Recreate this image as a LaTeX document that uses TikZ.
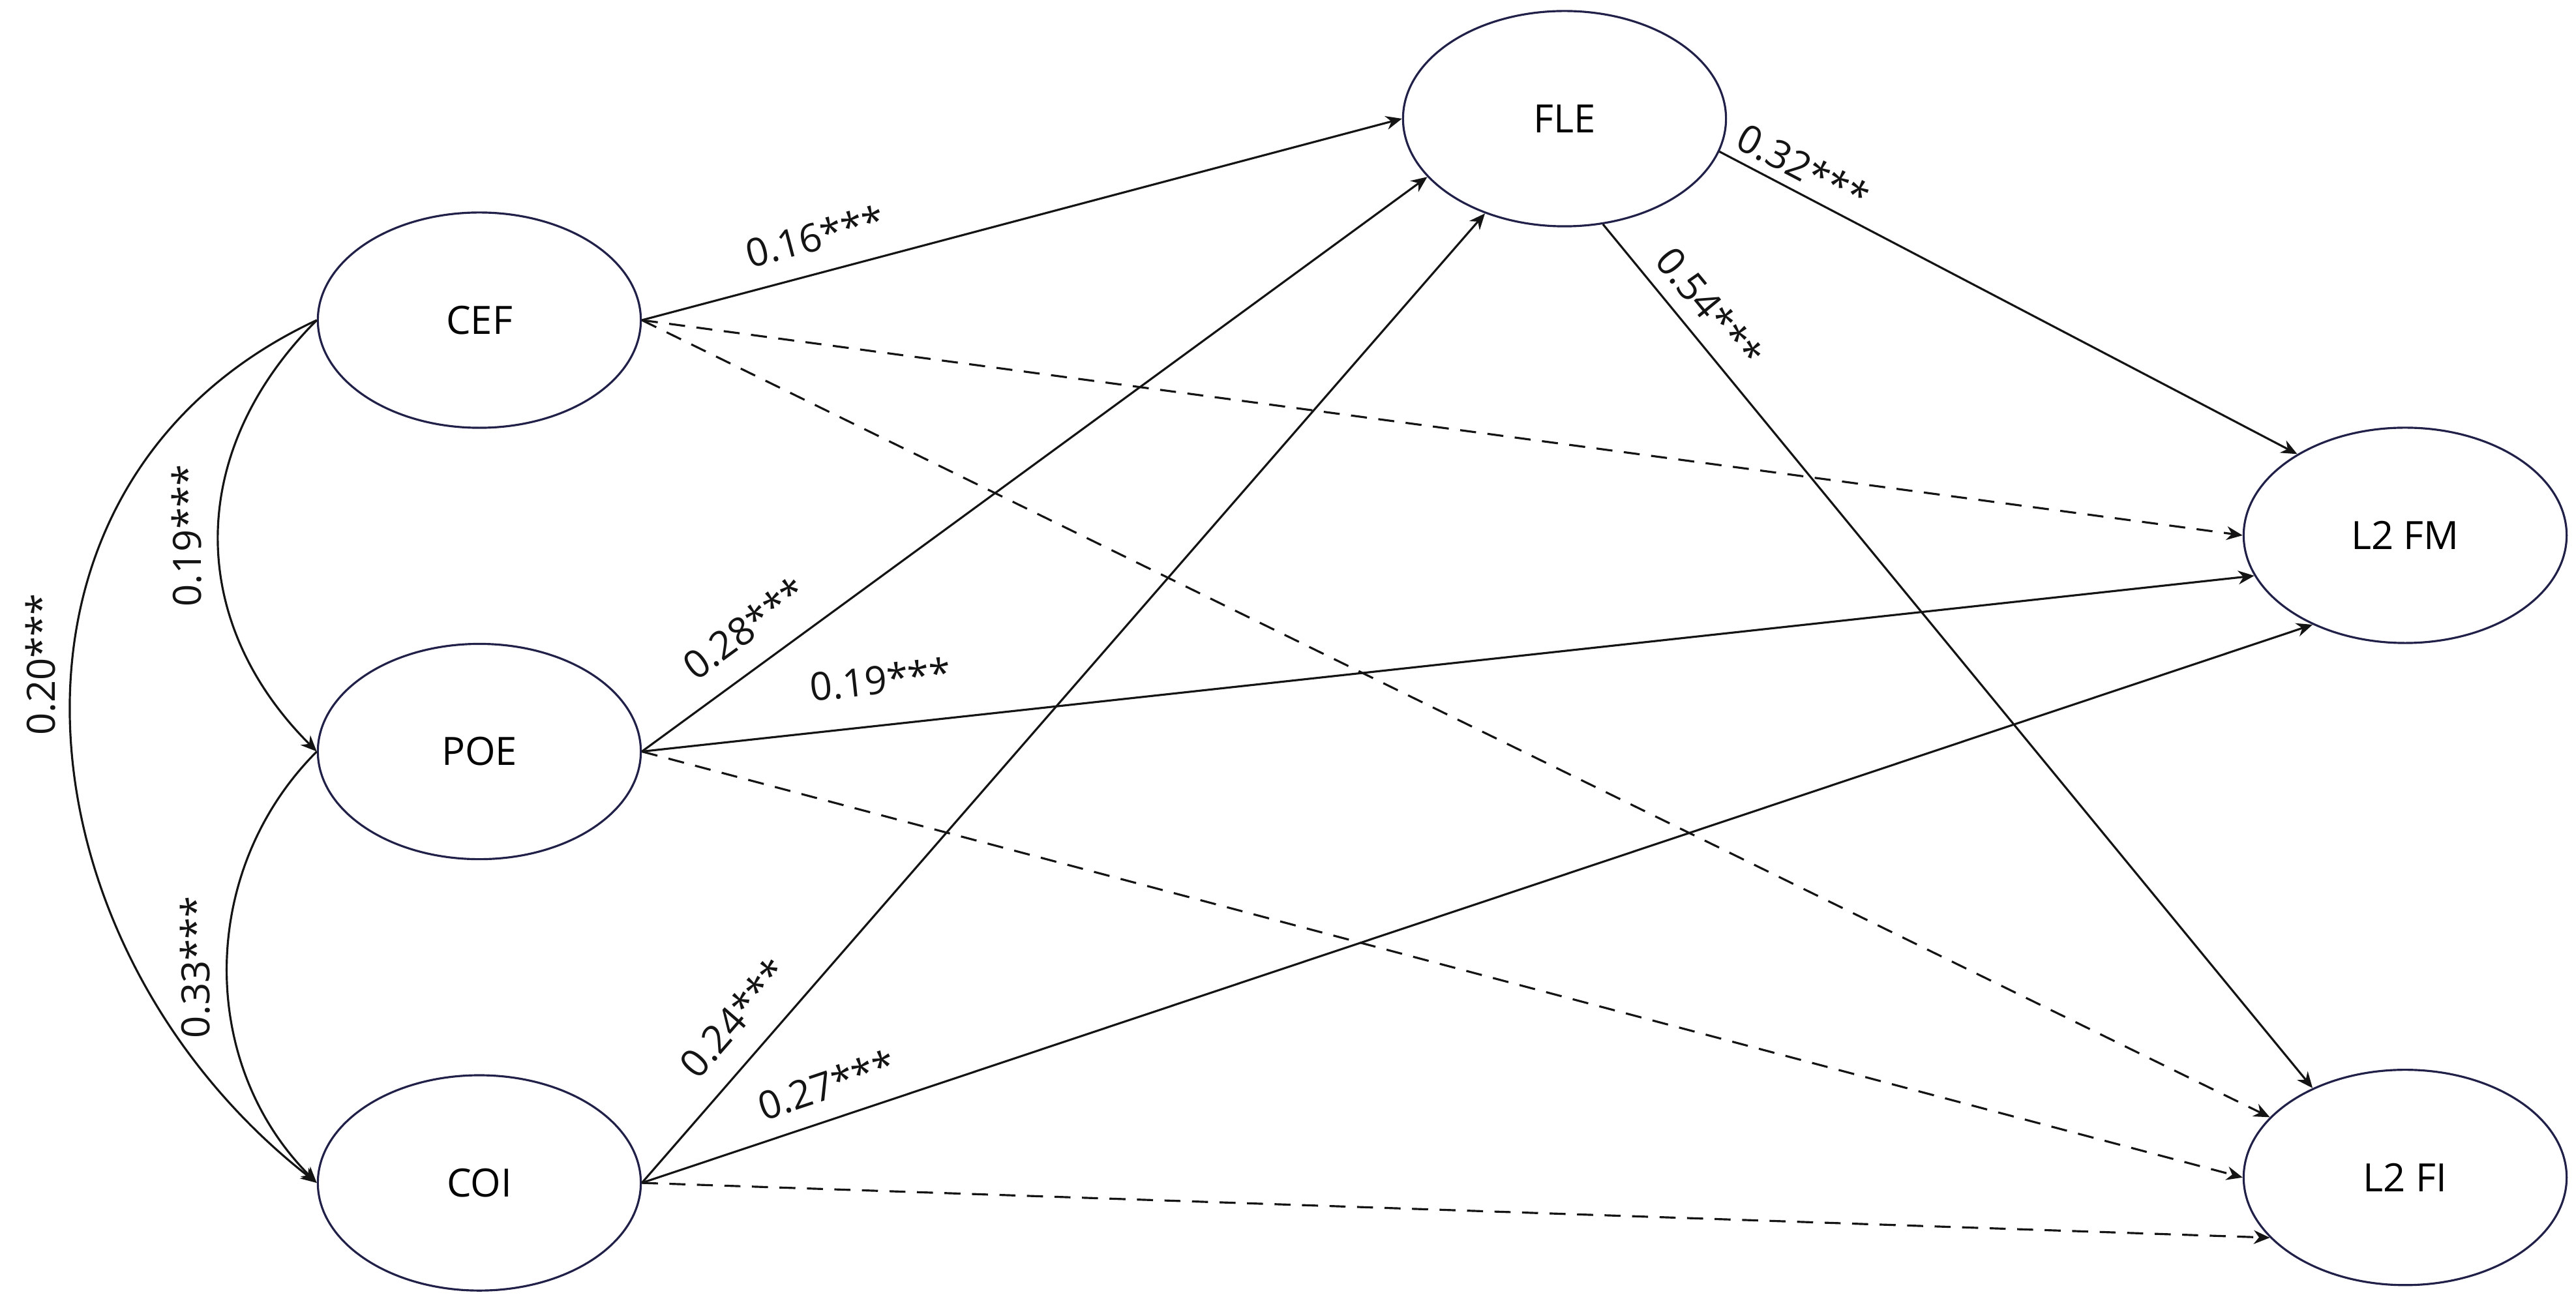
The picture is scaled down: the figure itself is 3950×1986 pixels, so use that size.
\documentclass[tikz,border=0pt]{standalone}
\usepackage{fontspec}
\setmainfont{Open Sans}
\usetikzlibrary{arrows.meta,shapes.geometric,positioning}
\definecolor{NodeNavy}{RGB}{32,32,72}
\definecolor{LineDark}{RGB}{20,20,20}
\tikzset{
  %% latent variables
  latent/.style={ellipse,draw=NodeNavy,line width=0.9pt,
                 minimum width=4.95cm,minimum height=3.3cm,inner sep=0pt,
                 font=\fontsize{17}{20}\selectfont},
  %% paths: significant / not significant
  sigarr/.style={-{Stealth[length=7pt,width=6pt]},line width=0.9pt,color=LineDark},
  nsarr/.style={sigarr,dash pattern=on 7pt off 5pt},
  %% coefficients
  coef/.style={font=\fontsize{17}{20}\selectfont,sloped,inner sep=2pt},
  coefv/.style={font=\fontsize{17}{20}\selectfont,rotate=90,anchor=south,inner sep=7pt},
}
\begin{document}
\begin{tikzpicture}[x=0.01cm,y=0.01cm]
  \useasboundingbox (0,0) rectangle (3950,-1986);

  \node[latent] (CEF) at (735,-491) {CEF};
  \node[latent,below=3.28cm of CEF] (POE) {POE};
  \node[latent,below=3.28cm of POE] (COI) {COI};
  \node[latent] (FLE) at (2399,-182) {FLE};
  \node[latent] (FM) at (3688,-821) {L2 FM};
  \node[latent,below=6.51cm of FM] (FI) {L2 FI};

  % correlations among predictors
  \draw[sigarr] (CEF.west) to[out=225,in=135,looseness=1.1]
        node[coefv] {0.19***} (POE.west);
  \draw[sigarr] (CEF.west) to[out=205,in=142,looseness=1.15]
        node[coefv,pos=0.44] {0.20***} (COI.west);
  \draw[sigarr] (POE.west) to[out=225,in=135]
        node[coefv] {0.33***} (COI.west);

  % paths to FLE
  \draw[sigarr] (CEF.east) -- node[coef,pos=0.24,above=7pt] {0.16***} (FLE.west);
  \draw[sigarr] (POE.east) -- node[coef,pos=0.16,above=8pt] {0.28***} (FLE.203);
  \draw[sigarr] (COI.east) -- node[coef,pos=0.144,above=8pt] {0.24***} (FLE.230);

  % direct paths
  \draw[nsarr] (CEF.east) -- (FM.west);
  \draw[nsarr] (CEF.east) -- (FI.156);
  \draw[sigarr] (POE.east) -- node[coef,pos=0.151,above=11pt] {0.19***} (FM.195);
  \draw[nsarr] (POE.east) -- (FI.west);
  \draw[sigarr] (COI.east) -- node[coef,pos=0.117,above=6pt] {0.27***} (FM.224);
  \draw[nsarr] (COI.east) -- (FI.204);

  % FLE to outcomes
  \draw[sigarr] (FLE.-12) -- node[coef,pos=0.125,above=2pt] {0.32***} (FM.143);
  \draw[sigarr] (FLE.-70) -- node[coef,pos=0.118,above=4pt] {0.54***} (FI.136);
\end{tikzpicture}
\end{document}
